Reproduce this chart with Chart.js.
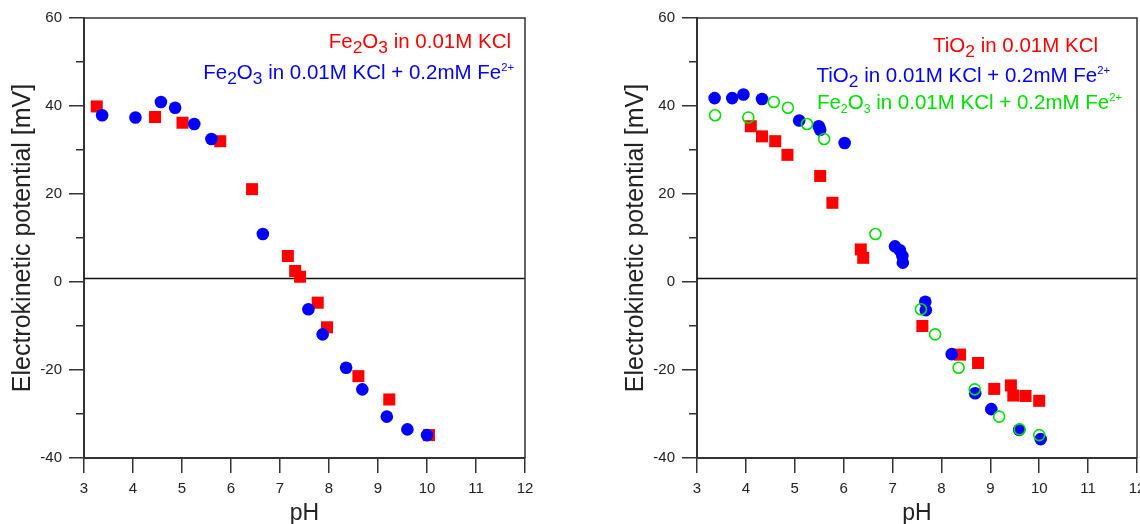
<!DOCTYPE html>
<html>
<head>
<meta charset="utf-8">
<script src="https://cdn.jsdelivr.net/npm/chart.js@4.4.1/dist/chart.umd.min.js"></script>
<style>
  body { margin: 0; background: #fff; }
  .panel { position: absolute; top: 0; height: 524px; }
  #left-box { left: 0; width: 560px; }
  #right-box { left: 613px; width: 527px; }
</style>
</head>
<body>
<div class="panel" id="left-box"><canvas id="left-chart"></canvas></div>
<div class="panel" id="right-box"><canvas id="right-chart"></canvas></div>
<script>
// pH / potential [mV]
const fe2o3KclPh = [3.26, 4.45, 5.01, 5.78, 6.43, 7.16, 7.31, 7.41, 7.77, 7.96, 8.60, 9.23, 10.04];
const fe2o3KclMv = [39.9, 37.5, 36.2, 32.0, 21.1, 5.9, 2.5, 1.2, -4.7, -10.3, -21.4, -26.7, -34.8];

const fe2o3FePh = [3.37, 4.05, 4.57, 4.86, 5.25, 5.60, 6.65, 7.58, 7.87, 8.35, 8.68, 9.18, 9.60, 10.0];
const fe2o3FeMv = [37.9, 37.4, 40.9, 39.6, 35.9, 32.5, 10.9, -6.2, -11.9, -19.5, -24.4, -30.6, -33.5, -34.8];

const tio2KclPh = [4.10, 4.33, 4.60, 4.85, 5.52, 5.77, 6.35, 6.40, 7.61, 8.38, 8.75, 9.08, 9.42, 9.47, 9.72, 10.0];
const tio2KclMv = [35.4, 33.1, 32.0, 28.9, 24.1, 18.0, 7.4, 5.5, -10.0, -16.5, -18.4, -24.3, -23.5, -25.8, -25.9, -27.0];

const tio2FePh = [3.36, 3.72, 3.95, 4.33, 5.09, 5.49, 5.52, 6.02, 7.05, 7.15, 7.20, 7.21, 7.67, 7.68, 8.21, 8.69, 9.02, 9.59, 10.03];
const tio2FeMv = [41.8, 41.8, 42.6, 41.6, 36.7, 35.4, 34.6, 31.6, 8.1, 7.2, 5.9, 4.4, -4.5, -6.4, -16.4, -25.3, -28.9, -33.6, -35.7];

const phTicks = [3, 4, 5, 6, 7, 8, 9, 10, 11, 12];
const mvMin = -40, mvMax = 60;
const baseLine = 0.8;   // the horizontal reference line sits just above 0

const RED = '#ff0000', BLUE = '#0000ff', GREEN = '#00e000';
const FONT = "'Liberation Sans', Arial, sans-serif";

const pts = (xs, ys) => xs.map((x, i) => ({ x: x, y: ys[i] }));

// frame round the plot area + the horizontal line
const framePlugin = {
    id: 'frame',
    beforeDatasetsDraw(chart) {
        const { ctx, chartArea: a } = chart;
        const y0 = chart.scales.y.getPixelForValue(baseLine);
        ctx.save();
        ctx.strokeStyle = '#111';
        ctx.lineWidth = 1.5;
        ctx.beginPath();
        ctx.moveTo(a.left, y0);
        ctx.lineTo(a.right, y0);
        ctx.stroke();
        ctx.strokeStyle = '#333';
        ctx.beginPath();
        ctx.moveTo(a.left, a.top);
        ctx.lineTo(a.right, a.top);
        ctx.lineTo(a.right, a.bottom);
        ctx.stroke();
        ctx.restore();
    }
};

// series labels with sub/superscripts, right aligned inside the plot
const notesPlugin = {
    id: 'notes',
    afterDraw(chart, args, opts) {
        const { ctx, chartArea: a } = chart;
        ctx.save();
        ctx.textBaseline = 'alphabetic';
        ctx.textAlign = 'left';
        for (const line of opts.lines || []) {
            const s = line.size;
            const kinds = {
                n: { size: s, dy: 0 },
                sub: { size: s * 0.85, dy: 5 },
                subs: { size: s * 0.6, dy: 4 },
                sup: { size: s * 0.55, dy: -8 }
            };
            let w = 0;
            for (const [t, k] of line.parts) {
                ctx.font = kinds[k].size + 'px ' + FONT;
                w += ctx.measureText(t).width;
            }
            let x = a.right + line.right - w;
            const y = a.top + line.top;
            ctx.fillStyle = line.color;
            for (const [t, k] of line.parts) {
                ctx.font = kinds[k].size + 'px ' + FONT;
                ctx.fillText(t, x, y + kinds[k].dy);
                x += ctx.measureText(t).width;
            }
        }
        ctx.restore();
    }
};

function makeScales() {
    return {
        x: {
            type: 'linear',
            min: phTicks[0],
            max: phTicks[phTicks.length - 1],
            afterBuildTicks: (scale) => { scale.ticks = phTicks.map(v => ({ value: v })); },
            ticks: { color: '#222', font: { family: FONT, size: 15 }, padding: 7, maxRotation: 0 },
            grid: { drawOnChartArea: false, tickLength: 15, color: '#333', lineWidth: 1.5 },
            border: { color: '#333', width: 2 },
            title: { display: true, text: 'pH', color: '#222', font: { family: FONT, size: 23, lineHeight: 1 }, padding: { top: 0, bottom: -1 } },
            afterFit: (scale) => { scale.height = 66; scale.paddingLeft = 0; scale.paddingRight = 0; }
        },
        y: {
            type: 'linear',
            min: mvMin,
            max: mvMax,
            ticks: {
                stepSize: 10,
                color: '#222',
                font: { family: FONT, size: 15 },
                padding: 7,
                autoSkip: false,
                callback: (v) => (v % 20 === 0 ? v : '')
            },
            grid: {
                drawOnChartArea: false,
                tickLength: 15,
                color: '#333',
                lineWidth: 1.5,
                tickBorderDash: (c) => (c.tick && c.tick.value % 20 !== 0 ? [0, 7, 8, 0] : [])
            },
            border: { color: '#333', width: 2 },
            title: { display: true, text: 'Electrokinetic potential [mV]', color: '#222', font: { family: FONT, size: 25, lineHeight: 1 }, padding: { top: 11, bottom: 0 } },
            afterFit: (scale) => { scale.width = 84; scale.paddingTop = 0; scale.paddingBottom = 0; }
        }
    };
}

const left_chart = new Chart(
    document.getElementById('left-chart').getContext('2d'), {
    type: 'scatter',
    data: {
        datasets: [{
            label: 'Fe2O3 in 0.01M KCl + 0.2mM Fe2+',
            data: pts(fe2o3FePh, fe2o3FeMv),
            pointStyle: 'circle',
            pointRadius: 6.3,
            backgroundColor: BLUE,
            borderWidth: 0,
            order: 1
        },
        {
            label: 'Fe2O3 in 0.01M KCl',
            data: pts(fe2o3KclPh, fe2o3KclMv),
            pointStyle: 'rect',
            pointRadius: 8.5,
            backgroundColor: RED,
            borderWidth: 0,
            order: 2
        }]
    },
    options: {
        responsive: true,
        maintainAspectRatio: false,
        animation: false,
        layout: { autoPadding: false, padding: { top: 18, right: 35, bottom: 0, left: 0 } },
        scales: makeScales(),
        plugins: {
            legend: { display: false },
            tooltip: { enabled: false },
            notes: {
                lines: [
                    { right: -14, top: 30, size: 20.5, color: RED,
                      parts: [['Fe', 'n'], ['2', 'sub'], ['O', 'n'], ['3', 'sub'], [' in 0.01M KCl', 'n']] },
                    { right: -11, top: 61, size: 20.5, color: BLUE,
                      parts: [['Fe', 'n'], ['2', 'sub'], ['O', 'n'], ['3', 'sub'], [' in 0.01M KCl + 0.2mM Fe', 'n'], ['2+', 'sup']] }
                ]
            }
        }
    },
    plugins: [framePlugin, notesPlugin]
});

const right_chart = new Chart(
    document.getElementById('right-chart').getContext('2d'), {
    type: 'scatter',
    data: {
        datasets: [{
            label: 'Fe2O3 in 0.01M KCl + 0.2mM Fe2+',
            data: pts(fe2o3FePh, fe2o3FeMv),
            pointStyle: 'circle',
            pointRadius: 5.5,
            backgroundColor: 'rgba(0,0,0,0)',
            borderColor: GREEN,
            borderWidth: 1.6,
            order: 1
        },
        {
            label: 'TiO2 in 0.01M KCl + 0.2mM Fe2+',
            data: pts(tio2FePh, tio2FeMv),
            pointStyle: 'circle',
            pointRadius: 6.3,
            backgroundColor: BLUE,
            borderWidth: 0,
            order: 2
        },
        {
            label: 'TiO2 in 0.01M KCl',
            data: pts(tio2KclPh, tio2KclMv),
            pointStyle: 'rect',
            pointRadius: 8.5,
            backgroundColor: RED,
            borderWidth: 0,
            order: 3
        }]
    },
    options: {
        responsive: true,
        maintainAspectRatio: false,
        animation: false,
        layout: { autoPadding: false, padding: { top: 18, right: 3, bottom: 0, left: 0 } },
        scales: makeScales(),
        plugins: {
            legend: { display: false },
            tooltip: { enabled: false },
            notes: {
                lines: [
                    { right: -39, top: 34, size: 20.5, color: RED,
                      parts: [['TiO', 'n'], ['2', 'sub'], [' in 0.01M KCl', 'n']] },
                    { right: -27, top: 64, size: 20.5, color: BLUE,
                      parts: [['TiO', 'n'], ['2', 'sub'], [' in 0.01M KCl + 0.2mM Fe', 'n'], ['2+', 'sup']] },
                    { right: -15, top: 91, size: 20.5, color: GREEN,
                      parts: [['Fe', 'n'], ['2', 'subs'], ['O', 'n'], ['3', 'subs'], [' in 0.01M KCl + 0.2mM Fe', 'n'], ['2+', 'sup']] }
                ]
            }
        }
    },
    plugins: [framePlugin, notesPlugin]
});
</script>
</body>
</html>
